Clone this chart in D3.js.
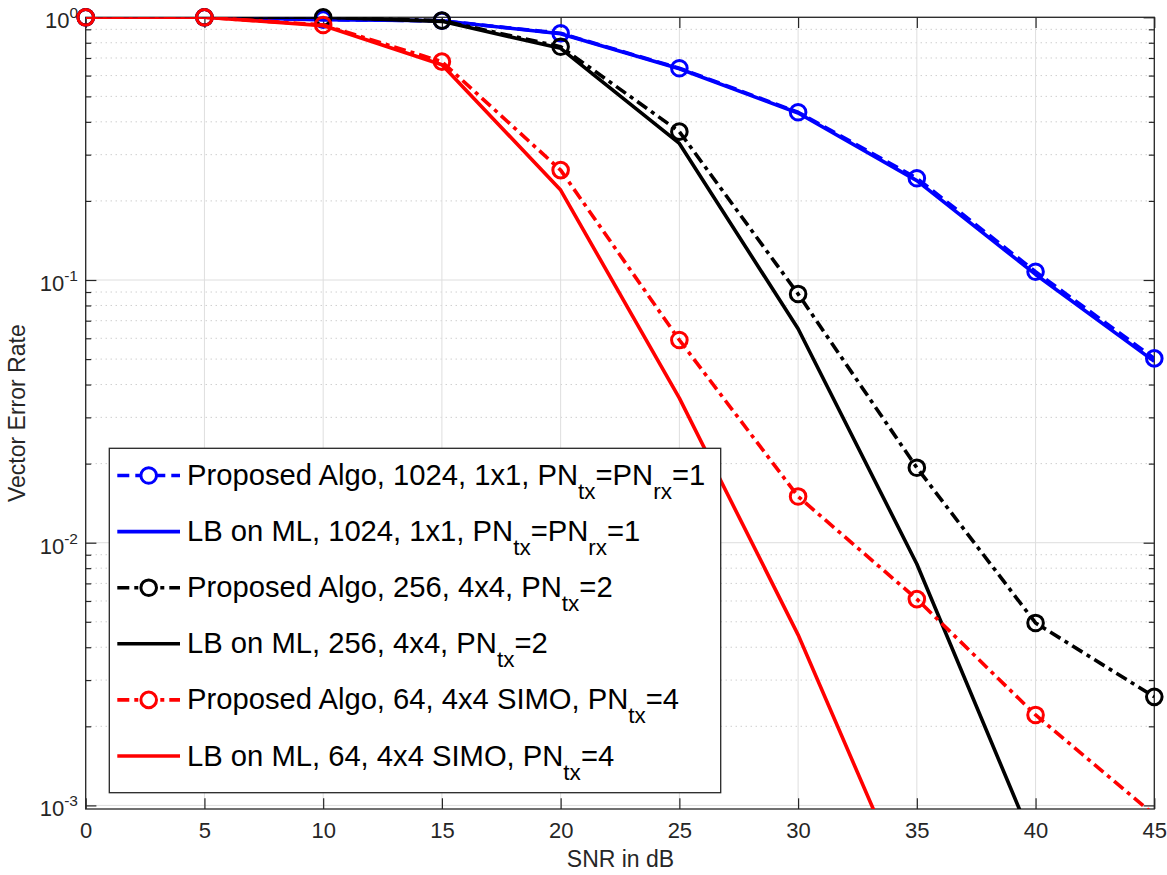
<!DOCTYPE html>
<html>
<head>
<meta charset="utf-8">
<script src="https://cdn.jsdelivr.net/npm/d3@7/dist/d3.min.js"></script>
<style>
  html, body { margin: 0; padding: 0; background: #fff; }
  svg { display: block; font-family: "Liberation Sans", Arial, Helvetica, sans-serif; }
</style>
</head>
<body>
<svg id="chart" width="1167" height="875"></svg>
<script>
// ---------------- data ----------------
const snr = [0, 5, 10, 15, 20, 25, 30, 35, 40, 45];
const blueProposed = [1.0, 1.0, 0.98, 0.97, 0.869, 0.640, 0.435, 0.244, 0.1075, 0.0503];
const blueLB       = [1.0, 1.0, 0.98, 0.97, 0.866, 0.637, 0.432, 0.239, 0.1050, 0.0490];
const blackProposed = [1.0, 1.0, 1.0, 0.971, 0.773, 0.367, 0.0885, 0.0193, 0.00495, 0.00259];
const blackLB       = [1.0, 1.0, 1.0, 0.965, 0.762, 0.331, 0.0652, 0.0083, 0.00069, null];
const redProposed = [1.0, 1.0, 0.935, 0.678, 0.262, 0.0591, 0.0150, 0.0061, 0.00221, 0.00092];
const redLB       = [1.0, 1.0, 0.930, 0.660, 0.220, 0.0355, 0.00446, 0.00040, null, null];

const xTicks = [0, 5, 10, 15, 20, 25, 30, 35, 40, 45];
const yMajorTicks = [1e-3, 1e-2, 1e-1, 1e0];
const yTickExponents = ["-3", "-2", "-1", "0"];
const xLabel = "SNR in dB";
const yLabel = "Vector Error Rate";

const seriesDefs = [
  { values: blueProposed, color: "#0000ff", dash: "12,6", marker: true,
    label: [["Proposed Algo, 1024, 1x1, PN", false], ["tx", true], ["=PN", false], ["rx", true], ["=1", false]] },
  { values: blueLB, color: "#0000ff", dash: null, marker: false,
    label: [["LB on ML, 1024, 1x1, PN", false], ["tx", true], ["=PN", false], ["rx", true], ["=1", false]] },
  { values: blackProposed, color: "#000000", dash: "12,5,4,5", marker: true,
    label: [["Proposed Algo, 256, 4x4, PN", false], ["tx", true], ["=2", false]] },
  { values: blackLB, color: "#000000", dash: null, marker: false,
    label: [["LB on ML, 256, 4x4, PN", false], ["tx", true], ["=2", false]] },
  { values: redProposed, color: "#ff0000", dash: "12,5,4,5", marker: true,
    label: [["Proposed Algo, 64, 4x4 SIMO, PN", false], ["tx", true], ["=4", false]] },
  { values: redLB, color: "#ff0000", dash: null, marker: false,
    label: [["LB on ML, 64, 4x4 SIMO, PN", false], ["tx", true], ["=4", false]] }
];

// ---------------- layout ----------------
const svg = d3.select("#chart");
const L = 85.7, R = 1154.3, T = 17.3, B = 809;
const yMin = 9.69e-4, yMax = 1;
const x = d3.scaleLinear().domain([0, 45]).range([L, R]);
const y = d3.scaleLog().domain([yMin, yMax]).range([B, T]);
const axisColor = "#262626";

svg.append("defs").append("clipPath").attr("id", "clip")
  .append("rect").attr("x", L).attr("y", T).attr("width", R - L).attr("height", B - T);

// grid
const grid = svg.append("g");
const minorTicks = [];
for (let e = -4; e <= 0; e++) {
  for (let m = 2; m <= 9; m++) {
    const v = m * Math.pow(10, e);
    if (v > yMin && v < yMax) minorTicks.push(v);
  }
}
grid.selectAll(".ymin").data(minorTicks).enter().append("line")
  .attr("x1", L).attr("x2", R).attr("y1", d => y(d)).attr("y2", d => y(d))
  .attr("stroke", "#b8b8b8").attr("stroke-width", 1).attr("stroke-dasharray", "1,4");
grid.selectAll(".xg").data(xTicks).enter().append("line")
  .attr("x1", d => x(d)).attr("x2", d => x(d)).attr("y1", T).attr("y2", B)
  .attr("stroke", "#dedede").attr("stroke-width", 1);
grid.selectAll(".yg").data(yMajorTicks).enter().append("line")
  .attr("x1", L).attr("x2", R).attr("y1", d => y(d)).attr("y2", d => y(d))
  .attr("stroke", "#dedede").attr("stroke-width", 1);

// axes with inward ticks
const tickLen = 10.7, minorLen = 5.5;
function styleAxis(g) {
  g.select(".domain").remove();
  g.selectAll(".tick line").attr("stroke", axisColor).attr("stroke-width", 1.2);
}
const xAxisBottom = d3.axisBottom(x).tickValues(xTicks).tickSizeInner(-tickLen).tickSizeOuter(0);
const gxb = svg.append("g").attr("transform", `translate(0,${B})`).call(xAxisBottom);
styleAxis(gxb);
gxb.attr("font-size", null).attr("font-family", null);
gxb.selectAll(".tick text").attr("fill", axisColor).attr("font-size", 22)
  .attr("y", 28.5).attr("dy", null);

const xAxisTop = d3.axisTop(x).tickValues(xTicks).tickSizeInner(-tickLen).tickSizeOuter(0).tickFormat("");
styleAxis(svg.append("g").attr("transform", `translate(0,${T})`).call(xAxisTop));
const yAxisLeft = d3.axisLeft(y).tickValues(yMajorTicks).tickSizeInner(-tickLen).tickSizeOuter(0).tickFormat("");
styleAxis(svg.append("g").attr("transform", `translate(${L},0)`).call(yAxisLeft));
const yAxisLeftMinor = d3.axisLeft(y).tickValues(minorTicks).tickSizeInner(-minorLen).tickSizeOuter(0).tickFormat("");
styleAxis(svg.append("g").attr("transform", `translate(${L},0)`).call(yAxisLeftMinor));
const yAxisRight = d3.axisRight(y).tickValues(yMajorTicks).tickSizeInner(-tickLen).tickSizeOuter(0).tickFormat("");
styleAxis(svg.append("g").attr("transform", `translate(${R},0)`).call(yAxisRight));
const yAxisRightMinor = d3.axisRight(y).tickValues(minorTicks).tickSizeInner(-minorLen).tickSizeOuter(0).tickFormat("");
styleAxis(svg.append("g").attr("transform", `translate(${R},0)`).call(yAxisRightMinor));

// y tick labels 10^e
const ylab = svg.append("g");
yMajorTicks.forEach((v, i) => {
  const t = ylab.append("text").attr("x", 78).attr("y", y(v) + 10.8)
    .attr("text-anchor", "end").attr("fill", axisColor).attr("font-size", 22);
  t.append("tspan").text("10");
  t.append("tspan").attr("font-size", 15.5).attr("dy", -9.8).text(yTickExponents[i]);
});

// box
svg.append("rect").attr("x", L).attr("y", T).attr("width", R - L).attr("height", B - T)
  .attr("fill", "none").attr("stroke", axisColor).attr("stroke-width", 1.3);

// axis labels
svg.append("text").attr("x", (L + R) / 2 + 0.5).attr("y", 866.5).attr("text-anchor", "middle")
  .attr("fill", axisColor).attr("font-size", 23).text(xLabel);
svg.append("text").attr("transform", `translate(25,${(T + B) / 2}) rotate(-90)`)
  .attr("text-anchor", "middle").attr("fill", axisColor).attr("font-size", 23).text(yLabel);

// series
const plot = svg.append("g");
const lineGen = d3.line()
  .defined(d => d[1] !== null)
  .x(d => x(d[0])).y(d => y(d[1]));
const drawOrder = [1, 0, 3, 2, 5, 4];
drawOrder.forEach(idx => {
  const s = seriesDefs[idx];
  const pts = snr.map((v, i) => [v, s.values[i]]);
  plot.append("path").datum(pts)
    .attr("clip-path", "url(#clip)")
    .attr("d", lineGen)
    .attr("fill", "none").attr("stroke", s.color).attr("stroke-width", 3.6)
    .attr("stroke-linejoin", "round")
    .attr("stroke-dasharray", s.dash);
  if (s.marker) {
    plot.selectAll(null).data(pts.filter(d => d[1] !== null && d[1] >= yMin && d[1] <= yMax))
      .enter().append("circle")
      .attr("cx", d => x(d[0])).attr("cy", d => y(d[1])).attr("r", 7.8)
      .attr("fill", "none").attr("stroke", s.color).attr("stroke-width", 3);
  }
});

// legend
const lg = svg.append("g");
const lgX = 109.3, lgY = 448.3, lgW = 720.7 - 109.3, lgH = 792.7 - 448.3;
lg.append("rect").attr("x", lgX).attr("y", lgY).attr("width", lgW).attr("height", lgH)
  .attr("fill", "#fff").attr("stroke", axisColor).attr("stroke-width", 1.3);
seriesDefs.forEach((s, i) => {
  const base = 485 + i * 56.1;
  const cy = base - 9.5;
  lg.append("line").attr("x1", 117.3).attr("x2", 180).attr("y1", cy).attr("y2", cy)
    .attr("stroke", s.color).attr("stroke-width", 3.6).attr("stroke-dasharray", s.dash);
  if (s.marker) {
    lg.append("circle").attr("cx", 148.7).attr("cy", cy).attr("r", 7.8)
      .attr("fill", "#fff").attr("stroke", s.color).attr("stroke-width", 3);
  }
  const t = lg.append("text").attr("x", 187).attr("y", base).attr("font-size", 29.2).attr("fill", "#000");
  let shifted = false;
  s.label.forEach(([txt, sub]) => {
    const ts = t.append("tspan").text(txt);
    if (sub && !shifted) { ts.attr("font-size", 22.5).attr("dy", 14); shifted = true; }
    else if (!sub && shifted) { ts.attr("dy", -14); shifted = false; }
  });
});
</script>
</body>
</html>
